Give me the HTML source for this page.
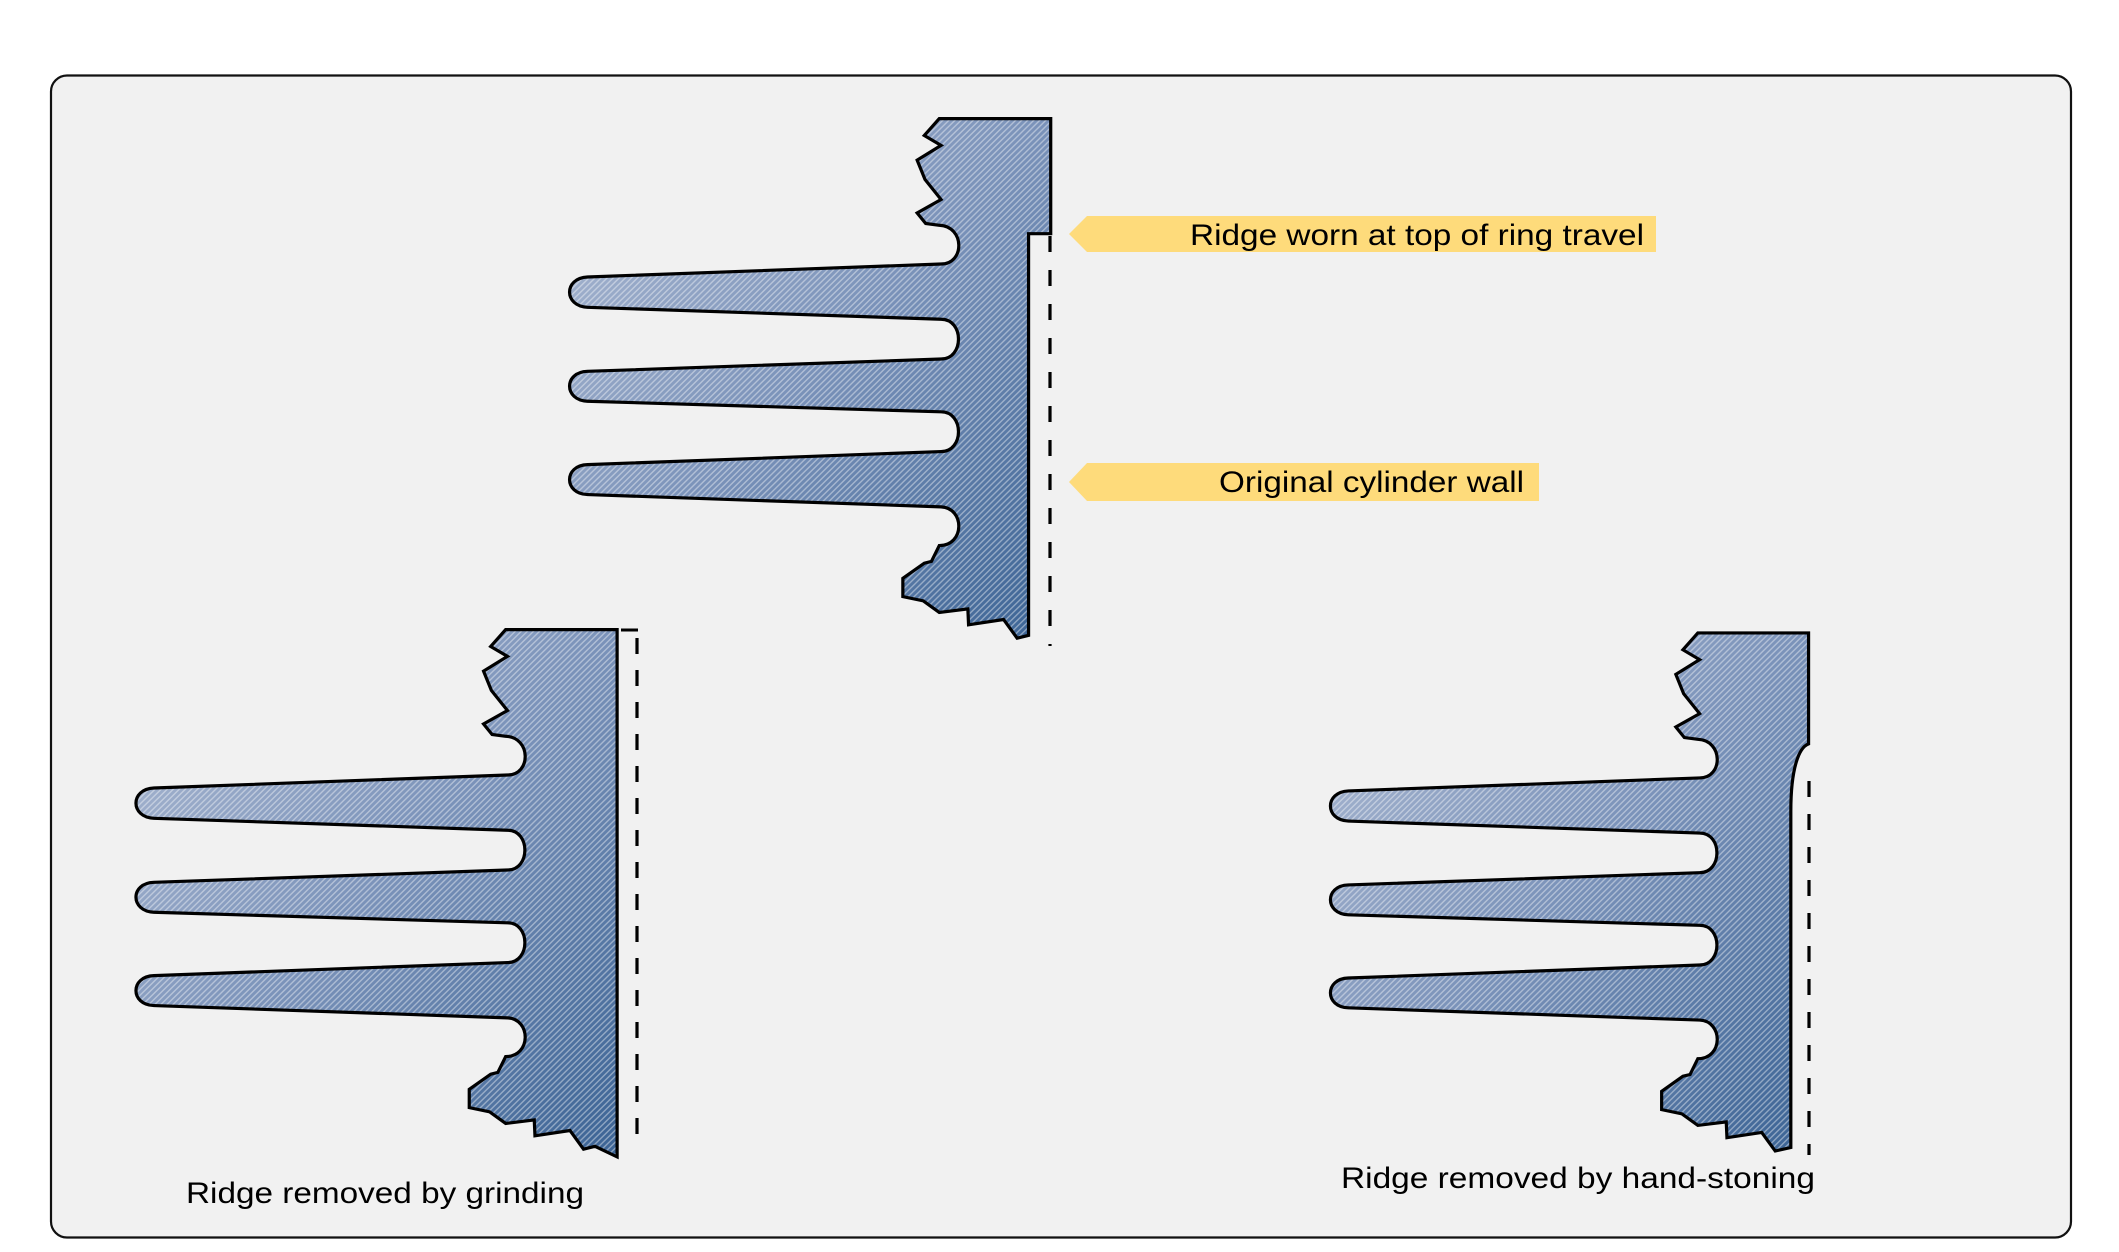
<!DOCTYPE html>
<html><head><meta charset="utf-8"><style>html,body{margin:0;padding:0;background:#fff}svg{display:block}</style></head>
<body>
<svg width="2119" height="1252" viewBox="0 0 2119 1252" xmlns="http://www.w3.org/2000/svg">
<defs>
<linearGradient id="g" x1="0" y1="0" x2="1" y2="1">
<stop offset="0" stop-color="#aebbd3"/><stop offset="0.5" stop-color="#7a92b9"/><stop offset="1" stop-color="#3b6394"/>
</linearGradient>
<pattern id="h" patternUnits="userSpaceOnUse" width="12" height="12" patternTransform="rotate(-45)">
<rect width="12" height="4" fill="rgba(255,255,255,0.4)"/>
</pattern>
<path id="pt" d="M1090,52 L1048,100 L1095,128 L1028,170 L1050,225 L1095,282 L1028,320 L1052,350 L1090,355 C1162,358 1162,465 1095,465 L105,502 C38,505 38,585 105,588 L1095,622 C1160,622 1160,735 1095,735 L105,770 C38,772 38,852 105,855 L1095,885 C1160,885 1160,998 1095,998 L105,1035 C38,1037 38,1118 105,1120 L1095,1155 C1162,1158 1162,1265 1090,1265 L1068,1310 L1048,1315 L988,1358 L988,1410 L1045,1422 L1090,1455 L1170,1445 L1172,1490 L1270,1475 L1308,1528 L1340,1520 L1340,379 L1402,379 L1402,52 Z"/>
<path id="pg" d="M1090,52 L1048,100 L1095,128 L1028,170 L1050,225 L1095,282 L1028,320 L1052,350 L1090,355 C1162,358 1162,465 1095,465 L105,502 C38,505 38,585 105,588 L1095,622 C1160,622 1160,735 1095,735 L105,770 C38,772 38,852 105,855 L1095,885 C1160,885 1160,998 1095,998 L105,1035 C38,1037 38,1118 105,1120 L1095,1155 C1162,1158 1162,1265 1090,1265 L1068,1310 L1048,1315 L988,1358 L988,1410 L1045,1422 L1090,1455 L1170,1445 L1172,1490 L1270,1475 L1308,1528 L1340,1520 L1402,1550 L1402,52 Z"/>
<path id="ph" d="M1090,52 L1048,100 L1095,128 L1028,170 L1050,225 L1095,282 L1028,320 L1052,350 L1090,355 C1162,358 1162,465 1095,465 L105,502 C38,505 38,585 105,588 L1095,622 C1160,622 1160,735 1095,735 L105,770 C38,772 38,852 105,855 L1095,885 C1160,885 1160,998 1095,998 L105,1035 C38,1037 38,1118 105,1120 L1095,1155 C1162,1158 1162,1265 1090,1265 L1068,1310 L1048,1315 L988,1358 L988,1410 L1045,1422 L1090,1455 L1170,1445 L1172,1490 L1270,1475 L1308,1528 L1352,1518 L1352,560 C1352,440 1374,378 1402,368 L1402,52 Z"/>
</defs>
<rect x="51" y="75.5" width="2020" height="1162" rx="16" fill="#f1f1f1" stroke="#111" stroke-width="2.2"/>

<g transform="translate(550,100.3) scale(0.35714,0.352)">
<use href="#pt" fill="url(#g)"/>
<use href="#pt" fill="url(#h)" stroke="#000" stroke-width="9"/>
</g>
<line x1="1050" y1="236" x2="1050" y2="646" stroke="#000" stroke-width="3.2" stroke-dasharray="16,18"/>

<g transform="translate(116.4,611.3) scale(0.35714,0.352)">
<use href="#pg" fill="url(#g)"/>
<use href="#pg" fill="url(#h)" stroke="#000" stroke-width="9"/>
</g>
<line x1="621" y1="630" x2="638" y2="630" stroke="#000" stroke-width="3"/>
<line x1="637" y1="638" x2="637" y2="1150" stroke="#000" stroke-width="3.2" stroke-dasharray="16,16"/>

<g transform="translate(1311,614.7) scale(0.3549,0.351)">
<use href="#ph" fill="url(#g)"/>
<use href="#ph" fill="url(#h)" stroke="#000" stroke-width="9"/>
</g>
<line x1="1809" y1="781" x2="1809" y2="1155" stroke="#000" stroke-width="3.2" stroke-dasharray="16,17"/>

<polygon points="1069,234 1087,216 1656,216 1656,252 1087,252" fill="#fedb7b"/>
<text x="1644" y="245" font-family="Liberation Sans, sans-serif" font-size="30" text-anchor="end" textLength="454" lengthAdjust="spacingAndGlyphs">Ridge worn at top of ring travel</text>
<polygon points="1069,482 1087,463 1539,463 1539,501 1087,501" fill="#fedb7b"/>
<text x="1524" y="492" font-family="Liberation Sans, sans-serif" font-size="30" text-anchor="end" textLength="305" lengthAdjust="spacingAndGlyphs">Original cylinder wall</text>

<text x="186" y="1203" font-family="Liberation Sans, sans-serif" font-size="30" textLength="398" lengthAdjust="spacingAndGlyphs">Ridge removed by grinding</text>
<text x="1341" y="1188" font-family="Liberation Sans, sans-serif" font-size="30" textLength="474" lengthAdjust="spacingAndGlyphs">Ridge removed by hand-stoning</text>
</svg>
</body></html>
